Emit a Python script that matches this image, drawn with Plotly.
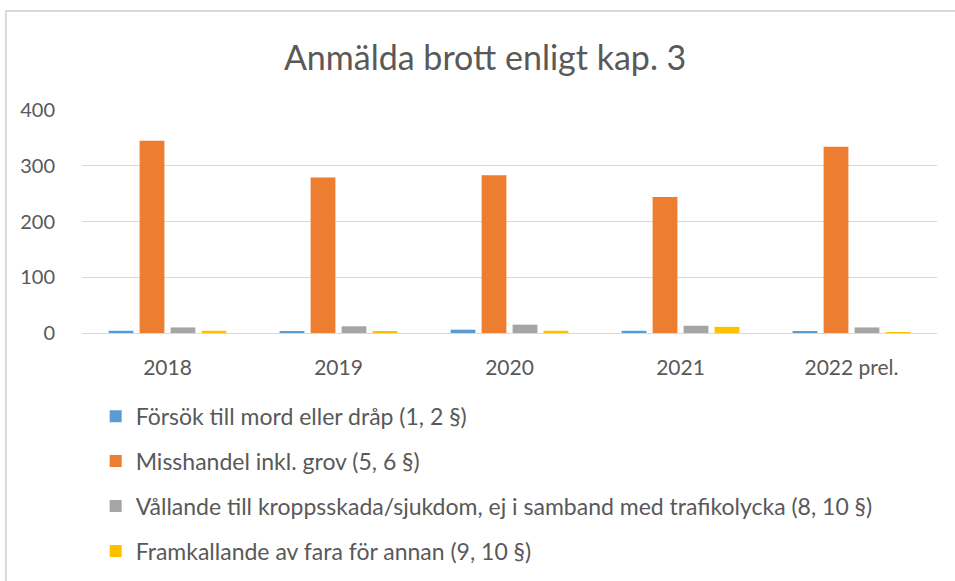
import plotly.graph_objects as go

categories = ["2018", "2019", "2020", "2021", "2022 prel."]
series_names = [
    "Försök till mord eller dråp (1, 2 §)",
    "Misshandel inkl. grov (5, 6 §)",
    "Vållande till kroppsskada/sjukdom, ej i samband med trafikolycka (8, 10 §)",
    "Framkallande av fara för annan (9, 10 §)",
]
forsok = [4, 3, 6, 4, 3]
misshandel = [345, 279, 283, 244, 334]
vallande = [10, 12, 15, 13, 10]
framkallande = [4, 3, 4, 11, 1]
colors = ["#5B9BD5", "#ED7D31", "#A5A5A5", "#FFC000"]

fig = go.Figure()
for i, (name, vals) in enumerate(zip(series_names, [forsok, misshandel, vallande, framkallande])):
    fig.add_trace(go.Bar(x=categories, y=vals, name=name, marker_color=colors[i],
                         marker_line_width=0, legendgroup=str(i)))

font_family = "Lato, Open Sans, sans-serif"
fig.update_layout(
    width=955, height=581,
    paper_bgcolor="white", plot_bgcolor="white",
    margin=dict(l=82, r=18, t=110, b=248, autoexpand=False),
    barmode="group", bargap=0.275, bargroupgap=0.2,
    title=dict(text="Anmälda brott enligt kap. 3", x=0.508, xanchor="center",
               y=0.9, yanchor="middle",
               font=dict(family=font_family, size=34, color="#595959")),
    font=dict(family=font_family, color="#595959"),
    showlegend=True,
    legend=dict(orientation="v", x=0.016, xanchor="left", y=-0.277, yanchor="top",
                font=dict(size=23, color="#595959"), tracegroupgap=12,
                bgcolor="rgba(0,0,0,0)", itemwidth=30),
    shapes=[dict(type="rect", xref="paper", yref="paper",
                 x0=-0.089, x1=1.05, y0=-1.3, y1=1.444,
                 line=dict(color="#D9D9D9", width=2))],
)
fig.update_xaxes(showgrid=False, tickfont=dict(size=21, color="#595959"),
                 showline=True, linecolor="#D9D9D9", linewidth=1, ticks="",
                 ticklabelstandoff=16)
fig.update_yaxes(range=[0, 400], dtick=100, showgrid=True, gridcolor="#D9D9D9",
                 gridwidth=1, zeroline=False, tickfont=dict(size=20, color="#595959"),
                 ticks="", ticklabelstandoff=26)

fig.write_html("out.html", config={"displayModeBar": False},
               post_script="document.body.style.margin='0';")
